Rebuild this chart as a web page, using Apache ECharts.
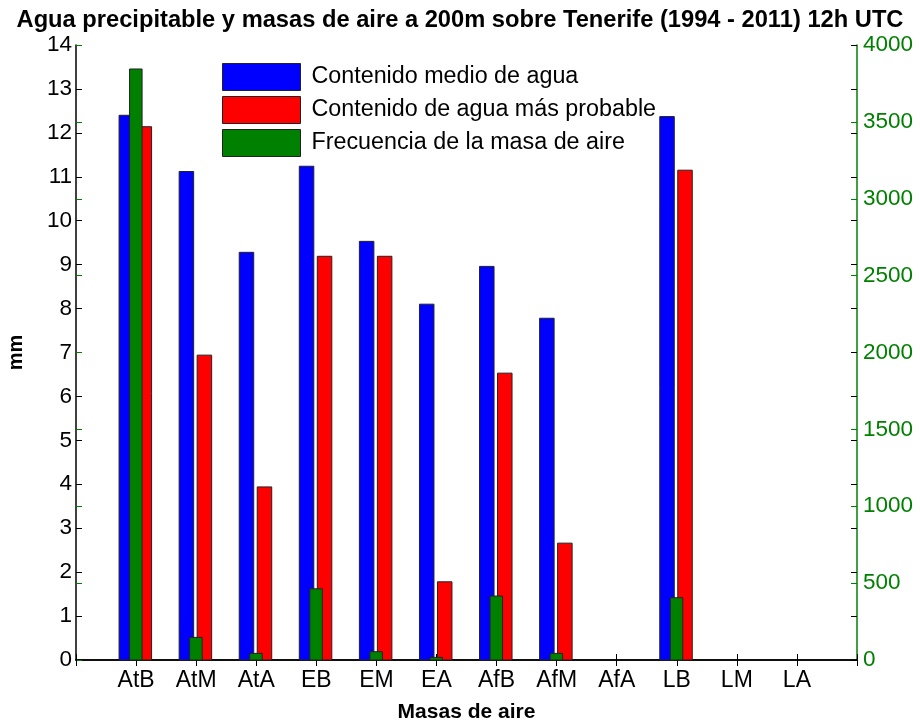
<!DOCTYPE html>
<html><head><meta charset="utf-8">
<script src="https://cdn.jsdelivr.net/npm/echarts@6/dist/echarts.min.js"></script>
<style>html,body{margin:0;padding:0;background:#fff}#c{width:920px;height:722px}</style>
</head><body><div id="c"></div>
<script>
const categories = ['AtB','AtM','AtA','EB','EM','EA','AfB','AfM','AfA','LB','LM','LA'];
const meanWater = [12.40, 11.12, 9.28, 11.24, 9.53, 8.10, 8.96, 7.78, 0, 12.37, 0, 0];
const probableWater = [12.14, 6.94, 3.94, 9.19, 9.19, 1.78, 6.53, 2.66, 0, 11.15, 0, 0];
const frequency = [3844, 147, 43, 463, 54, 17, 416, 43, 0, 405, 0, 0];
const seriesNames = ['Contenido medio de agua', 'Contenido de agua más probable', 'Frecuencia de la masa de aire'];
const titleText = 'Agua precipitable y masas de aire a 200m sobre Tenerife (1994 - 2011) 12h UTC';

const FONT = 'Liberation Sans, Arial, sans-serif';
const axisCats = [''].concat(categories, ['']);
const toData = arr => arr.map((v, i) => [i + 1, v]);

function barRenderer(left, right, fill) {
  return function (params, api) {
    const x = api.value(0), v = api.value(1);
    if (!v) return null;
    const p0 = api.coord([x, 0]);
    const p1 = api.coord([x, v]);
    return {
      type: 'rect',
      shape: { x: p0[0] + left, y: p1[1], width: right - left, height: p0[1] - p1[1] },
      style: { fill: fill, stroke: '#222', lineWidth: 1 }
    };
  };
}

const chart = echarts.init(document.getElementById('c'), null, { renderer: 'canvas' });
chart.setOption({
  animation: false,
  backgroundColor: '#fff',
  title: {
    text: titleText, left: 'center', top: 3,
    textStyle: { fontFamily: FONT, fontWeight: 'bold', fontSize: 23.7, color: '#000' }
  },
  legend: {
    orient: 'vertical', left: 222, top: 63, padding: 0,
    itemWidth: 78, itemHeight: 27, itemGap: 5,
    selectedMode: false,
    textStyle: { fontFamily: FONT, fontSize: 23.3, color: '#000', padding: [0, 0, 0, 6] },
    data: [
      { name: seriesNames[0], icon: 'rect', itemStyle: { color: '#0000FF', borderColor: '#222', borderWidth: 1 } },
      { name: seriesNames[1], icon: 'rect', itemStyle: { color: '#FF0000', borderColor: '#222', borderWidth: 1 } },
      { name: seriesNames[2], icon: 'rect', itemStyle: { color: '#008000', borderColor: '#222', borderWidth: 1 } }
    ]
  },
  grid: { left: 76, right: 63, top: 45, bottom: 62, outerBoundsMode: 'none', containLabel: false },
  xAxis: [
    {
      type: 'category', data: axisCats, boundaryGap: false, position: 'bottom',
      axisLine: { lineStyle: { color: '#000', width: 1.5 } },
      axisTick: { inside: true, length: 6, interval: 0, lineStyle: { color: '#000' } },
      axisLabel: { interval: 0, fontFamily: FONT, fontSize: 23, color: '#000', margin: 9 },
      name: 'Masas de aire', nameLocation: 'middle', nameGap: 42,
      nameTextStyle: { fontFamily: FONT, fontWeight: 'bold', fontSize: 21, color: '#000' }
    },
    {
      type: 'category', data: axisCats, boundaryGap: false, position: 'top',
      axisLine: { lineStyle: { color: '#000', width: 1.5 } },
      axisTick: { inside: true, length: 6, interval: 0, lineStyle: { color: '#000' } },
      axisLabel: { show: false }
    }
  ],
  yAxis: [
    {
      type: 'value', position: 'left', min: 0, max: 14, interval: 1,
      axisLine: { show: true, lineStyle: { color: '#000', width: 1.5 } },
      axisTick: { show: true, inside: true, length: 6, lineStyle: { color: '#000' } },
      axisLabel: { fontFamily: FONT, fontSize: 22.5, color: '#000', margin: 4 },
      splitLine: { show: false },
      name: 'mm', nameLocation: 'middle', nameGap: 50, nameRotate: 90,
      nameTextStyle: { fontFamily: FONT, fontWeight: 'bold', fontSize: 20, color: '#000' }
    },
    {
      type: 'value', position: 'right', min: 0, max: 4000, interval: 500,
      axisLine: { show: true, lineStyle: { color: '#008000', width: 1.5 } },
      axisTick: { show: true, inside: true, length: 6, lineStyle: { color: '#008000' } },
      axisLabel: { fontFamily: FONT, fontSize: 22.5, color: '#008000', margin: 6, formatter: v => String(v) },
      splitLine: { show: false }
    },
    {
      type: 'value', position: 'left', min: 0, max: 4000, interval: 500,
      axisLine: { show: false },
      axisTick: { show: true, inside: true, length: 6, lineStyle: { color: '#008000' } },
      axisLabel: { show: false }, splitLine: { show: false }
    },
    {
      type: 'value', position: 'right', min: 0, max: 14, interval: 1,
      axisLine: { show: false },
      axisTick: { show: true, inside: true, length: 6, lineStyle: { color: '#000' } },
      axisLabel: { show: false }, splitLine: { show: false }
    }
  ],
  series: [
    {
      name: seriesNames[0], type: 'custom', xAxisIndex: 0, yAxisIndex: 0,
      itemStyle: { color: '#0000FF' },
      renderItem: barRenderer(-17, -2.5, '#0000FF'),
      encode: { x: 0, y: 1 },
      data: toData(meanWater)
    },
    {
      name: seriesNames[1], type: 'custom', xAxisIndex: 0, yAxisIndex: 0,
      itemStyle: { color: '#FF0000' },
      renderItem: barRenderer(1, 15.5, '#FF0000'),
      encode: { x: 0, y: 1 },
      data: toData(probableWater)
    },
    {
      name: seriesNames[2], type: 'custom', xAxisIndex: 0, yAxisIndex: 1,
      itemStyle: { color: '#008000' },
      renderItem: barRenderer(-6.5, 6, '#008000'),
      encode: { x: 0, y: 1 },
      data: toData(frequency)
    }
  ]
});
</script>
</body></html>
